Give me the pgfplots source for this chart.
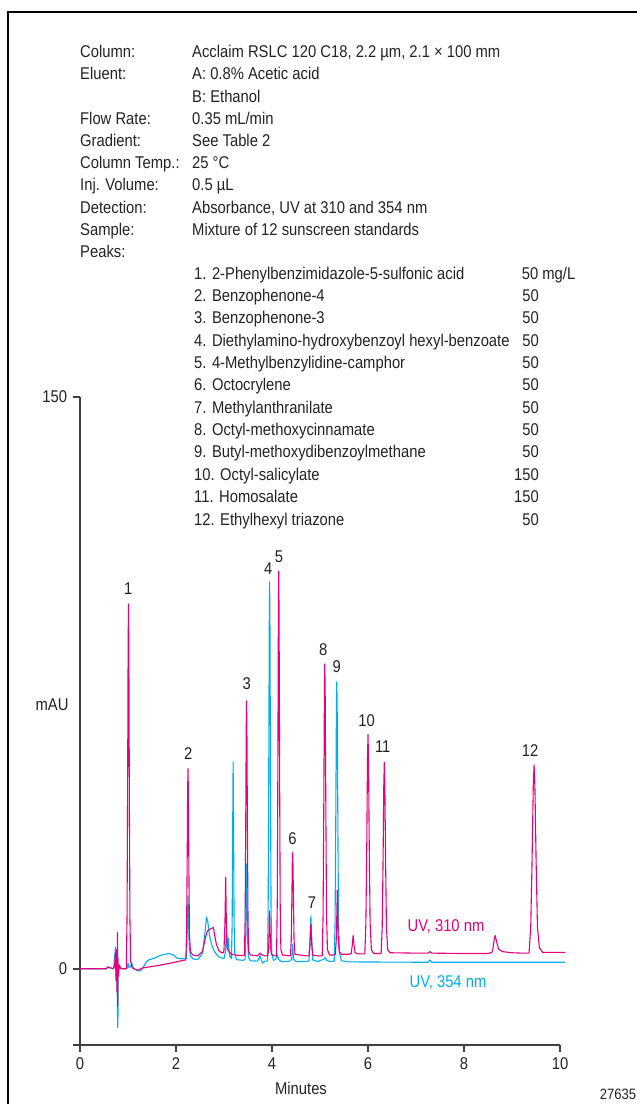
\documentclass[border=0pt]{standalone}
\usepackage{fontspec}
\setmainfont{Liberation Sans}[FakeStretch=0.87]
\usepackage{pgfplots}
\pgfplotsset{compat=1.18}
\definecolor{mag}{RGB}{230,0,126}
\definecolor{cyn}{RGB}{0,174,239}
\definecolor{axc}{RGB}{64,64,64}
\definecolor{txt}{RGB}{35,35,35}
\begin{document}
\fontsize{17bp}{20bp}\selectfont
\begin{tikzpicture}[x=1bp,y=1bp]
\path[use as bounding box] (0,0) rectangle (637,1104);
\draw[line width=1.3bp] (8,0) -- (8,1092) -- (637,1092);
\begin{scope}[every node/.style={inner sep=0pt, text=txt}]
% header
\node[anchor=base west] at (80,1046.2) {Column:};
\node[anchor=base west] at (192,1046.2) {Acclaim RSLC 120 C18, 2.2 µm, 2.1 × 100 mm};
\node[anchor=base west] at (80,1024) {Eluent:};
\node[anchor=base west] at (192,1024) {A: 0.8\% Acetic acid};
\node[anchor=base west] at (192,1001.8) {B: Ethanol};
\node[anchor=base west] at (80,979.6) {Flow Rate:};
\node[anchor=base west] at (192,979.6) {0.35 mL/min};
\node[anchor=base west] at (80,957.4) {Gradient:};
\node[anchor=base west] at (192,957.4) {See Table 2};
\node[anchor=base west] at (80,935.2) {Column Temp.:};
\node[anchor=base west] at (192,935.2) {25 °C};
\node[anchor=base west] at (80,913) {Inj. Volume:};
\node[anchor=base west] at (192,913) {0.5 µL};
\node[anchor=base west] at (80,890.8) {Detection:};
\node[anchor=base west] at (192,890.8) {Absorbance, UV at 310 and 354 nm};
\node[anchor=base west] at (80,868.6) {Sample:};
\node[anchor=base west] at (192,868.6) {Mixture of 12 sunscreen standards};
\node[anchor=base west] at (80,846.4) {Peaks:};
% peak list
\node[anchor=base west] at (194,824.9) {1. 2-Phenylbenzimidazole-5-sulfonic acid};
\node[anchor=base west] at (521.6,824.9) {50 mg/L};
\node[anchor=base west] at (194,802.54) {2. Benzophenone-4};
\node[anchor=base east] at (539,802.54) {50};
\node[anchor=base west] at (194,780.18) {3. Benzophenone-3};
\node[anchor=base east] at (539,780.18) {50};
\node[anchor=base west] at (194,757.82) {4. Diethylamino-hydroxybenzoyl hexyl-benzoate};
\node[anchor=base east] at (539,757.82) {50};
\node[anchor=base west] at (194,735.46) {5. 4-Methylbenzylidine-camphor};
\node[anchor=base east] at (539,735.46) {50};
\node[anchor=base west] at (194,713.1) {6. Octocrylene};
\node[anchor=base east] at (539,713.1) {50};
\node[anchor=base west] at (194,690.74) {7. Methylanthranilate};
\node[anchor=base east] at (539,690.74) {50};
\node[anchor=base west] at (194,668.38) {8. Octyl-methoxycinnamate};
\node[anchor=base east] at (539,668.38) {50};
\node[anchor=base west] at (194,646.02) {9. Butyl-methoxydibenzoylmethane};
\node[anchor=base east] at (539,646.02) {50};
\node[anchor=base west] at (194,623.66) {10. Octyl-salicylate};
\node[anchor=base east] at (539,623.66) {150};
\node[anchor=base west] at (194,601.3) {11. Homosalate};
\node[anchor=base east] at (539,601.3) {150};
\node[anchor=base west] at (194,578.94) {12. Ethylhexyl triazone};
\node[anchor=base east] at (539,578.94) {50};
% axis titles
\node at (52,399) {mAU};
\node at (301,16) {Minutes};
\node[font=\fontsize{15bp}{17bp}\selectfont] at (618,10) {27635};
\node[text=mag] at (446,177) {UV, 310 nm};
\node[text=cyn] at (448,121) {UV, 354 nm};
% peak numbers
\node at (128.3,515.7) {1};
\node at (188.3,350.7) {2};
\node at (246.7,420) {3};
\node at (268.3,535.7) {4};
\node at (279,547.3) {5};
\node at (292.5,265.7) {6};
\node at (312,201.3) {7};
\node at (323.3,454.7) {8};
\node at (336.7,437.3) {9};
\node at (366.7,383.3) {10};
\node at (382.7,357.3) {11};
\node at (530,353.3) {12};
\end{scope}
\begin{axis}[at={(80bp,59bp)}, anchor=south west, scale only axis,
  width=480bp, height=648bp, xmin=0, xmax=10, ymin=-20, ymax=150,
  axis x line*=bottom, axis y line*=left,
  axis line style={axc, line width=1.5bp, -},
  xtick={0,2,4,6,8,10}, ytick={-20,0,150}, yticklabels={,0,150},
  tick align=outside, major tick length=7bp,
  tick style={axc, line width=1.5bp},
  tick label style={text=txt},
  clip=false,
  /pgf/number format/assume math mode=true]
\addplot[cyn, line width=1.1bp, line join=round] coordinates {
(0,0) (0.55,0) (0.58,0.4) (0.65,0.2) (0.7,0) (0.72,3) (0.74,5.7) (0.75,-2) (0.76,3)
(0.775,-5) (0.785,-15.4) (0.79,-14) (0.795,-2) (0.81,1) (0.83,0.3) (0.9,0)
(0.98,0) (1.0,1.5) (1.02,0.3) (1.05,0.5) (1.08,1.5) (1.1,0.3) (1.2,-0.5) (1.25,-0.6)
(1.3,0) (1.38,1.8) (1.43,2.3) (1.55,2.8) (1.7,3.6) (1.85,4.0) (1.95,3.6) (2.02,2.8)
(2.1,2.6) (2.2,2.7)
(2.215,2.8) (2.23,7) (2.24,14) (2.25,19.1) (2.26,14) (2.275,6) (2.3,3.5) (2.35,2.6)
(2.45,2.4) (2.55,4) (2.6,9) (2.635,13.6) (2.66,12.5) (2.7,8.5) (2.75,6) (2.8,4.5)
(2.88,3.2) (2.95,2.8) (3.0,2.7)
(3.03,4.5) (3.05,10) (3.07,5) (3.09,8) (3.11,4) (3.13,3.0)
(3.155,2.7) (3.17,12) (3.18,35) (3.19,54.3) (3.2,35) (3.21,12) (3.225,4) (3.26,2.4)
(3.4,2.2) (3.44,2.5) (3.455,10) (3.465,22) (3.47,27.5) (3.478,20) (3.49,8) (3.51,3) (3.55,2.1)
(3.7,2.0) (3.75,3.4) (3.78,2.2) (3.8,1.5) (3.85,2.0)
(3.905,2.0) (3.92,15.9) (3.932,50.8) (3.9425,89.6) (3.95,101.5) (3.9575,89.6) (3.968,50.8)
(3.98,15.9) (3.995,4) (4.03,2.2)
(4.08,2.5) (4.11,3.7) (4.14,2.4) (4.2,1.9) (4.35,1.9)
(4.41,2.5) (4.43,6.4) (4.45,2.5) (4.5,1.9) (4.7,1.9)
(4.77,2) (4.79,7) (4.81,13.9) (4.83,7) (4.85,2.3) (4.95,1.9)
(5.08,2.5) (5.11,2.9) (5.14,2.2) (5.2,1.9)
(5.296,2.0) (5.314,12.2) (5.328,37.9) (5.341,66.5) (5.35,75.3) (5.359,66.5) (5.372,37.9)
(5.386,12.2) (5.405,4) (5.45,2.1)
(5.6,1.8) (7.25,1.7) (7.29,2.3) (7.33,1.7) (10.1,1.7)
};
\addplot[mag, line width=1.1bp, line join=round] coordinates {
(0,0) (0.55,0) (0.58,0.5) (0.62,0.3) (0.68,0) (0.72,0.5) (0.74,4) (0.75,-3) (0.76,5)
(0.77,-6) (0.78,9.5) (0.785,-10) (0.79,3) (0.80,-2) (0.82,1) (0.85,0) (0.93,0)
(0.965,0) (0.98,13.4) (0.992,47) (1.0025,84) (1.01,95.7) (1.0175,84) (1.028,47) (1.04,13.4)
(1.055,2) (1.08,0.5) (1.12,0) (1.2,-0.4) (1.3,0.2) (1.6,0.8) (1.9,1.5) (2.15,2.2)
(2.205,2.3) (2.22,9.3) (2.232,26.9) (2.2425,46.5) (2.25,52.5) (2.2575,46.5) (2.268,26.9)
(2.28,9.3) (2.3,4.5) (2.35,3.6)
(2.45,3.4) (2.55,4.5) (2.62,8.5) (2.66,10) (2.72,10.5) (2.78,10.8) (2.81,8.5) (2.84,6.5)
(2.89,4.8) (2.95,4.2) (2.99,4.2)
(3.0,5) (3.02,12) (3.035,24) (3.045,15) (3.06,7) (3.08,5)
(3.15,3.8) (3.3,3.5) (3.4,3.5)
(3.425,3.5) (3.44,12.9) (3.452,36.2) (3.4625,62.3) (3.47,70.3) (3.4775,62.3) (3.488,36.2)
(3.5,12.9) (3.515,4.5) (3.55,3.6)
(3.7,3.4) (3.75,4.1) (3.78,3.7) (3.85,3.4)
(3.91,3.4) (3.93,5) (3.94,10) (3.95,15.2) (3.96,10) (3.975,5) (3.99,3.8) (4.05,3.4)
(4.095,3.4) (4.11,17.5) (4.122,52.8) (4.1325,92.2) (4.14,104.3) (4.1475,92.2) (4.158,52.8)
(4.17,17.5) (4.185,5) (4.22,3.6) (4.35,3.4)
(4.385,3.4) (4.40,7.2) (4.412,16.7) (4.4225,27.2) (4.43,30.5) (4.4375,27.2) (4.448,16.7)
(4.46,7.2) (4.48,3.8) (4.7,3.4)
(4.77,3.4) (4.79,6) (4.81,11.7) (4.83,6) (4.85,3.6) (4.95,3.4)
(5.046,3.4) (5.064,14.1) (5.078,40.9) (5.091,70.8) (5.1,80) (5.109,70.8) (5.122,40.9)
(5.136,14.1) (5.155,5) (5.2,3.6) (5.28,3.6)
(5.32,3.8) (5.34,8) (5.352,15) (5.36,20.6) (5.368,15) (5.38,8) (5.40,4.5) (5.45,3.8)
(5.6,3.8) (5.65,4) (5.675,6.5) (5.69,8.8) (5.705,6.5) (5.73,4.2) (5.8,3.9)
(5.934,3.9) (5.956,12) (5.974,32.1) (5.989,54.6) (6.0,61.5) (6.011,54.6) (6.026,32.1)
(6.044,12) (6.07,5) (6.12,4) (6.2,4)
(6.274,4) (6.296,11) (6.314,28.6) (6.329,48.2) (6.34,54.2) (6.351,48.2) (6.366,28.6)
(6.384,11) (6.41,5) (6.46,4.2)
(7.0,4.1) (7.25,4.1) (7.29,4.5) (7.33,4.1) (8.0,4.0) (8.5,4.0) (8.58,4.3)
(8.6,5) (8.63,7.8) (8.65,8.7) (8.68,7) (8.72,5.2) (8.8,4.5) (9.0,4.2) (9.2,4.1) (9.3,4.1)
(9.355,4.1) (9.39,11) (9.418,28.3) (9.4425,47.6) (9.46,53.5) (9.4775,47.6) (9.502,28.3)
(9.53,11) (9.57,5.5) (9.64,4.3) (10.1,4.3)
};
\end{axis}
\end{tikzpicture}
\end{document}
